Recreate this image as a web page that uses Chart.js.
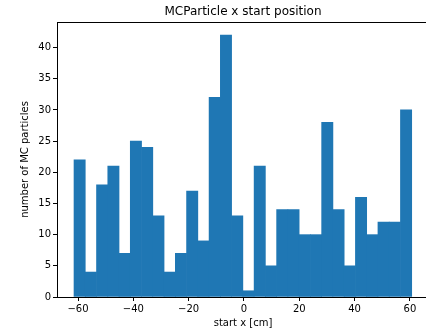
<!DOCTYPE html>
<html>
<head>
<meta charset="utf-8">
<script src="https://cdn.jsdelivr.net/npm/chart.js@4.4.1/dist/chart.umd.min.js"></script>
<style>
  html, body { margin: 0; padding: 0; background: #fff; overflow: hidden; }
  #wrap { width: 426px; height: 331px; overflow: hidden; }
</style>
</head>
<body>
<div id="wrap"><canvas id="histo" width="440" height="331"></canvas></div>
<script>
// histogram of MC particle start x, 30 bins
var binStart = -61.45;
var binWidth = 4.07;
var counts = [22, 4, 18, 21, 7, 25, 24, 13, 4, 7, 17, 9, 32, 42, 13,
              1, 21, 5, 14, 14, 10, 10, 28, 14, 5, 16, 10, 12, 12, 30];
var xTicks = [-60, -40, -20, 0, 20, 40, 60];
var yTicks = [0, 5, 10, 15, 20, 25, 30, 35, 40];

var points = counts.map(function (c, i) {
	return { x: binStart + binWidth * (i + 0.5), y: c };
});

var font = "'DejaVu Sans', sans-serif";

var frame = {
	id: "frame",
	afterDraw: function (chart) {
		var a = chart.chartArea;
		var ctx = chart.ctx;
		ctx.save();
		ctx.strokeStyle = "#000";
		ctx.lineWidth = 1;
		ctx.strokeRect(a.left + 0.5, a.top + 0.5, a.right - a.left, a.bottom - a.top);
		ctx.fillStyle = "#000";
		ctx.font = "12px " + font;
		ctx.textAlign = "center";
		ctx.textBaseline = "middle";
		ctx.fillText("MCParticle x start position", (a.left + a.right) / 2, 12);
		ctx.restore();
	}
};

function minus(v) {
	return String(v).replace("-", "\u2212");
}

var chart = new Chart(document.getElementById("histo"), {
	type: "bar",
	data: {
		datasets: [{
			label: "MCParticle x start",
			data: points,
			backgroundColor: "#1f77b4",
			borderWidth: 0,
			barPercentage: 1,
			categoryPercentage: 1,
			grouped: false
		}]
	},
	options: {
		responsive: false,
		animation: false,
		devicePixelRatio: 1,
		layout: { padding: { top: 22, right: 11, left: 0, bottom: 0 } },
		plugins: {
			legend: { display: false },
			title: { display: false },
			tooltip: { enabled: false }
		},
		scales: {
			x: {
				type: "linear",
				offset: false,
				min: -67.6,
				max: 66.9,
				afterBuildTicks: function (s) { s.ticks = xTicks.map(function (v) { return { value: v }; }); },
				afterFit: function (s) { s.height = 34; },
				grid: { display: true, offset: false, drawOnChartArea: false, drawTicks: true, tickLength: 4, color: "#000" },
				border: { display: false },
				ticks: {
					padding: 2,
					color: "#000",
					font: { family: font, size: 10 },
					maxRotation: 0,
					callback: function (v) { return minus(v); }
				},
				title: {
					display: true,
					text: "start x [cm]",
					color: "#000",
					font: { family: font, size: 10 },
					padding: { top: 0, bottom: 2 }
				}
			},
			y: {
				min: 0,
				max: 44.1,
				afterBuildTicks: function (s) { s.ticks = yTicks.map(function (v) { return { value: v }; }); },
				afterFit: function (s) { s.width = 57; },
				grid: { display: true, offset: false, drawOnChartArea: false, drawTicks: true, tickLength: 4, color: "#000" },
				border: { display: false },
				ticks: {
					padding: 2,
					color: "#000",
					font: { family: font, size: 10 },
					callback: function (v) { return minus(v); }
				},
				title: {
					display: true,
					text: "number of MC particles",
					color: "#000",
					font: { family: font, size: 10 },
					padding: { top: 19, bottom: 0 }
				}
			}
		}
	},
	plugins: [frame]
});
</script>
</body>
</html>
